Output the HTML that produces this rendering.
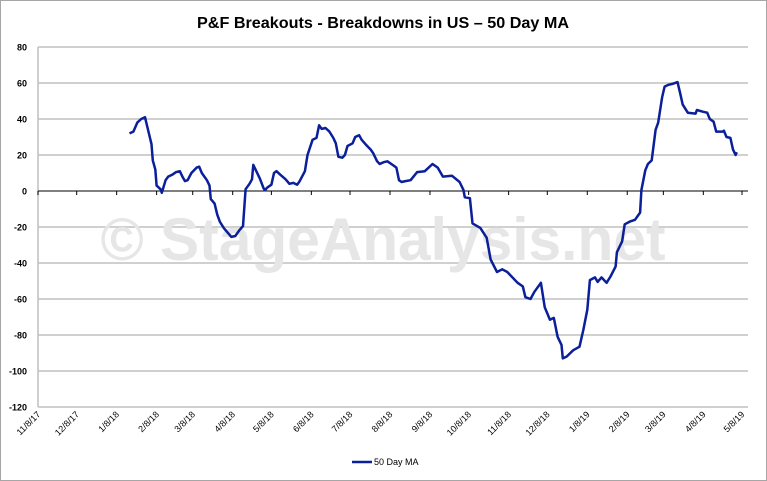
<!DOCTYPE html>
<html><head><meta charset="utf-8"><style>
html,body{margin:0;padding:0;background:#fff}
svg{display:block;font-family:"Liberation Sans",Arial,sans-serif}
</style></head><body>
<svg id="chart" width="767" height="481" viewBox="0 0 767 481" xmlns="http://www.w3.org/2000/svg">
<rect x="0.5" y="0.5" width="766" height="480" fill="#fff" stroke="#a6a6a6"/>
<text x="383" y="28" text-anchor="middle" font-size="16" font-weight="bold" fill="#000" textLength="372" lengthAdjust="spacingAndGlyphs">P&amp;F Breakouts - Breakdowns in US – 50 Day MA</text>
<g id="grid"></g>
<text x="383" y="260" text-anchor="middle" font-size="60" font-weight="bold" fill="#e6e6e6" textLength="565" lengthAdjust="spacingAndGlyphs">© StageAnalysis.net</text>
<g id="axes"></g>
<g id="series"></g>
<g>
<line x1="352" y1="462" x2="372" y2="462" stroke="#0a1f99" stroke-width="2.5"/>
<text x="374" y="465" font-size="9" fill="#000">50 Day MA</text>
</g>
</svg>
<script>
const tickLabels=["11/8/17","12/8/17","1/8/18","2/8/18","3/8/18","4/8/18","5/8/18","6/8/18","7/8/18","8/8/18","9/8/18","10/8/18","11/8/18","12/8/18","1/8/19","2/8/19","3/8/19","4/8/19","5/8/19"];
const tickDays=[0,30,61,92,120,151,181,212,242,273,304,334,365,395,426,457,485,516,546];
const yTicks=[80,60,40,20,0,-20,-40,-60,-80,-100,-120];
const days=[71,74,77,80,83,85,88,89,91,92,95,96,99,101,104,107,110,112,114,116,119,123,125,127,131,133,134,137,139,141,144,147,150,153,156,159,161,164,166,167,169,172,175,176,178,181,183,185,188,192,195,198,201,203,207,209,213,216,218,220,223,226,229,231,233,236,238,240,244,246,249,251,254,258,260,263,265,268,271,275,278,280,282,285,289,294,300,306,310,314,321,327,330,331,335,337,343,348,351,356,360,364,366,372,376,378,382,385,390,393,397,400,403,406,407,410,415,420,423,426,428,432,434,437,441,444,448,449,453,455,459,463,467,468,471,473,476,479,481,484,486,489,492,496,498,500,504,510,511,516,519,521,524,526,531,532,534,537,539,541,542];
const values=[32,33,38,40,41,35,26,17,12,3,1,-1,6,8,9,10.5,11,8,5.5,6,10,13,13.5,10,6,3,-4.5,-7,-13,-17,-20.5,-23,-25.5,-25,-22,-19.5,1,4,6.5,14.5,11.5,7,1.5,0.5,2,3.5,10,11,9,6.5,4,4.5,3.5,5.5,11,20,28.5,29.5,36.5,34.5,35,33,29.5,26.5,19,18.5,20,25,26.5,30,31,28.5,26,23,21,16.5,15,16,16.5,14.5,13,6,5,5.5,6,10.5,11,15,13,8,8.5,5,0.5,-3.5,-4,-18,-20.5,-26,-38,-45,-43.5,-45,-46.5,-51,-53,-59,-60,-56,-51,-64.5,-71.5,-70.5,-81,-85.5,-93,-92,-88.5,-86.5,-77,-66,-49.5,-48,-50.5,-48,-51,-47.5,-42,-34,-28,-18.5,-17,-16,-12,0.5,11.5,15,17,34,38,52,58,59,59.5,60.5,54.5,48,43.5,43,45,44,43.5,40,38.5,33,33,33.5,30,29.5,23,20,21.5];
const L=38,R=742,T=47,B=407;
const xs=d=>L+d/546*(R-L);
const ys=v=>T+(80-v)/200*(B-T);
const NS="http://www.w3.org/2000/svg";
function mk(tag,attrs,parent){const e=document.createElementNS(NS,tag);for(const k in attrs)e.setAttribute(k,attrs[k]);parent.appendChild(e);return e;}
const grid=document.getElementById('grid'),axes=document.getElementById('axes'),series=document.getElementById('series');
yTicks.forEach(v=>{
  if(v!==0){const g=mk('line',{x1:L,x2:R+6,y1:ys(v),y2:ys(v),stroke:'#c0c0c0','stroke-width':1.5},grid);
  
  }
  const t=mk('text',{x:27,y:ys(v)+3.5,'text-anchor':'end','font-size':9,'font-weight':'bold',fill:'#000'},axes);
  t.textContent=v;
  
  
});
const ya=mk('line',{x1:L,x2:L,y1:T,y2:B,stroke:'#bfbfbf','stroke-width':1.5},axes);


const xa=mk('line',{x1:L,x2:R+6,y1:ys(0),y2:ys(0),stroke:'#000','stroke-width':1},axes);


tickDays.forEach((d,i)=>{
  const tk=mk('line',{x1:xs(d),x2:xs(d),y1:ys(0),y2:ys(0)+4,stroke:'#000','stroke-width':1},axes);
  
  
  const t=mk('text',{x:xs(d)+3,y:B+8,'text-anchor':'end','font-size':9,fill:'#000',transform:`rotate(-45 ${xs(d)+3} ${B+8})`},axes);
  t.textContent=tickLabels[i];
  
  
});
const p=mk('polyline',{points:days.map((d,i)=>xs(d).toFixed(1)+','+ys(values[i]).toFixed(1)).join(' '),fill:'none',stroke:'#0a1f99','stroke-width':2.5,'stroke-linejoin':'round'},series);


</script>
</body></html>
